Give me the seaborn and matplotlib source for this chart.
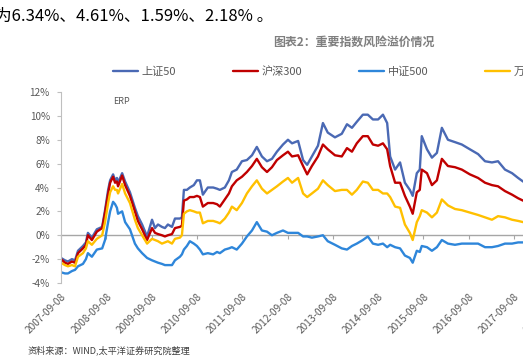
import matplotlib
matplotlib.use('Agg')
import matplotlib.pyplot as plt
import seaborn as sns
import pandas as pd
import numpy as np

dates = ['2007-09-08','2007-10-10','2007-11-03','2007-12-05','2007-12-30',
         '2008-01-23','2008-03-03','2008-03-27','2008-04-12','2008-05-14','2008-06-23','2008-08-05','2008-08-28','2008-09-22','2008-10-08','2008-11-01','2008-11-17','2008-12-02','2008-12-11',
         '2009-01-13','2009-02-06','2009-03-17','2009-04-26','2009-05-20','2009-06-23','2009-08-02','2009-09-11','2009-10-05','2009-10-29','2009-11-30','2009-12-24',
         '2010-01-17','2010-02-19','2010-03-15','2010-04-24','2010-05-10','2010-05-26','2010-06-19','2010-07-13','2010-08-14','2010-09-08','2010-10-02','2010-10-26','2010-12-05',
         '2011-01-17','2011-02-17','2011-03-12','2011-04-21','2011-05-24','2011-06-17','2011-07-26','2011-09-06','2011-10-16','2011-11-26',
         '2012-01-04','2012-02-14','2012-03-26','2012-05-05','2012-06-14','2012-08-02','2012-09-11','2012-10-14','2012-12-02',
         '2013-01-11','2013-02-13','2013-03-23','2013-05-11','2013-06-20','2013-07-29','2013-09-25','2013-11-19','2013-12-31',
         '2014-02-09','2014-03-20','2014-05-08','2014-06-17','2014-07-28','2014-09-08','2014-10-17','2014-11-20','2014-12-14',
         '2015-01-23','2015-03-04','2015-04-12','2015-05-22','2015-06-14','2015-07-17','2015-08-10','2015-08-26','2015-10-07','2015-11-16','2015-12-26',
         '2016-02-04','2016-03-24','2016-05-20','2016-07-14','2016-09-17','2016-11-22',
         '2017-01-17','2017-03-14','2017-05-02','2017-06-27','2017-08-23','2017-10-11','2017-11-20','2017-12-20']

sz50 = [-1.9,-2.1,-2.2,-2.0,-2.1,
        -1.3,-0.9,-0.6,0.2,-0.2,0.5,0.7,2.1,3.8,4.6,5.1,4.6,4.8,4.4,
        5.2,4.5,3.6,2.3,1.6,0.9,-0.1,1.3,0.6,0.9,0.7,0.6,
        0.9,0.7,1.4,1.4,1.5,3.8,3.8,4.0,4.2,4.6,4.6,3.4,4.0,
        4.0,3.9,3.8,4.0,4.6,5.3,5.5,6.2,6.3,6.7,
        7.4,6.6,6.2,6.4,7.0,7.6,8.0,7.7,7.9,
        6.3,5.9,6.6,7.5,9.4,8.6,8.2,8.5,9.3,
        9.0,9.5,10.1,10.1,9.7,9.7,10.1,9.4,6.6,
        5.5,6.1,4.4,3.8,3.3,5.2,5.5,8.3,7.2,6.5,6.9,
        9.0,8.0,7.8,7.6,7.2,6.8,
        6.2,6.1,6.2,5.5,5.2,4.8,4.5,4.4]

hs300 = [-2.0,-2.3,-2.4,-2.2,-2.3,
         -1.5,-1.1,-0.8,0.0,-0.4,0.3,0.6,1.9,3.5,4.4,4.9,4.4,4.5,4.1,
         5.0,4.2,3.3,2.0,1.2,0.5,-0.4,0.6,0.2,0.1,0.0,-0.1,
         0.0,0.1,0.6,0.7,0.8,2.9,3.0,3.2,3.2,3.3,3.2,2.4,2.7,
         2.7,2.6,2.4,3.0,3.5,4.1,4.6,4.9,5.3,5.8,
         6.4,5.7,5.3,5.7,6.3,6.7,7.0,6.6,6.7,
         5.8,5.1,5.8,6.6,7.6,7.2,6.7,6.6,7.3,
         7.0,7.7,8.3,8.3,7.6,7.5,7.7,7.2,5.8,
         4.4,4.4,3.3,2.4,1.8,3.6,3.8,5.5,5.2,4.2,4.6,
         6.4,5.8,5.7,5.5,5.1,4.8,
         4.4,4.2,4.1,3.7,3.4,3.1,2.9,2.8]

zz500 = [-3.1,-3.2,-3.2,-3.0,-2.9,
         -2.6,-2.4,-2.0,-1.5,-1.8,-1.2,-1.1,-0.4,1.1,2.0,2.8,2.6,2.3,1.8,
         2.0,1.1,0.5,-0.7,-1.1,-1.5,-1.9,-2.1,-2.2,-2.3,-2.4,-2.5,
         -2.5,-2.5,-2.1,-1.8,-1.6,-1.2,-0.9,-0.5,-0.7,-0.9,-1.2,-1.6,-1.5,
         -1.6,-1.4,-1.5,-1.2,-1.1,-1.0,-1.2,-0.7,-0.1,0.4,
         1.1,0.4,0.3,0.0,0.2,0.4,0.2,0.2,0.2,
         -0.1,-0.1,-0.2,-0.1,0.0,-0.5,-0.8,-1.1,-1.2,
         -0.9,-0.7,-0.4,-0.1,-0.7,-0.8,-0.7,-1.0,-0.8,
         -1.0,-1.1,-1.7,-1.9,-2.3,-1.3,-1.4,-0.9,-1.0,-1.3,-1.0,
         -0.4,-0.7,-0.8,-0.7,-0.7,-0.7,
         -1.0,-1.0,-0.9,-0.7,-0.7,-0.6,-0.6,-0.6]

wdqa = [-2.3,-2.5,-2.6,-2.5,-2.6,
        -1.8,-1.5,-1.1,-0.5,-0.8,-0.3,0.0,1.1,2.7,3.6,4.1,3.8,3.8,3.5,
        4.3,3.5,2.7,1.3,0.6,0.0,-0.7,-0.3,-0.4,-0.5,-0.7,-0.6,
        -0.5,-0.7,-0.3,-0.2,0.0,1.8,2.0,2.1,2.0,1.9,1.9,1.0,1.2,
        1.2,1.1,1.0,1.4,1.9,2.4,2.1,2.7,3.5,4.1,
        4.6,3.9,3.5,3.8,4.1,4.5,4.8,4.4,4.8,
        3.5,3.2,3.5,3.9,4.6,4.2,3.7,3.8,3.8,
        3.4,3.8,4.5,4.4,3.8,3.8,3.5,3.5,3.2,
        2.4,2.3,0.9,0.2,-0.4,1.1,1.6,2.1,1.9,1.5,1.9,
        3.0,2.5,2.2,2.1,1.9,1.7,
        1.5,1.3,1.6,1.5,1.3,1.2,1.1,1.0]

series_names = ['上证50', '沪深300', '中证500', '万得全A']
series_colors = ['#4A69B4', '#C00000', '#2E86DA', '#FFC000']
tick_dates = ['2007-09-08','2008-09-08','2009-09-08','2010-09-08','2011-09-08',
              '2012-09-08','2013-09-08','2014-09-08','2015-09-08','2016-09-08',
              '2017-09-08','2018-09-08']
yticks = [-4, -2, 0, 2, 4, 6, 8, 10, 12]

wide = pd.DataFrame({'date': pd.to_datetime(dates), '上证50': sz50, '沪深300': hs300,
                     '中证500': zz500, '万得全A': wdqa})
long = wide.melt(id_vars='date', var_name='series', value_name='value')

sns.set_theme(style='white')
plt.rcParams['font.family'] = ['Noto Sans CJK SC', 'DejaVu Sans']
plt.rcParams['axes.unicode_minus'] = False

W, H = 523, 357
fig = plt.figure(figsize=(W/100, H/100), dpi=100)
ax = fig.add_axes([61/W, 1-283/H, (559.3-61)/W, (283-92)/H])

sns.lineplot(data=long, x='date', y='value', hue='series', hue_order=series_names,
             palette=series_colors, estimator=None, linewidth=1.7, ax=ax)
handles, labels = ax.get_legend_handles_labels()
ax.get_legend().remove()

ax.set_xlim(pd.Timestamp(tick_dates[0]), pd.Timestamp(tick_dates[-1]))
ax.set_ylim(-4, 12)
ax.set_yticks(yticks)
ax.set_yticklabels([f'{v}%' for v in yticks])
ax.set_xticks(pd.to_datetime(tick_dates))
ax.set_xticklabels(tick_dates)
ax.set_xlabel('')
ax.set_ylabel('')

for s in ['top', 'right']:
    ax.spines[s].set_visible(False)
ax.spines['left'].set_color('#BFBFBF')
ax.spines['left'].set_linewidth(0.8)
ax.spines['bottom'].set_position(('data', 0))
ax.spines['bottom'].set_color('#A6A6A6')
ax.spines['bottom'].set_linewidth(1.0)
ax.spines['bottom'].set_zorder(0.5)
ax.tick_params(axis='y', direction='out', length=3, width=0.8, color='#BFBFBF',
               labelcolor='#595959', labelsize=7.2, pad=5, left=True)
ax.tick_params(axis='x', direction='out', length=3, width=0.8, color='#A6A6A6',
               labelcolor='#595959', labelsize=7.3, pad=37.5, bottom=True)
for lab in ax.get_xticklabels():
    lab.set_rotation(45)
    lab.set_horizontalalignment('right')
    lab.set_verticalalignment('top')
    lab.set_rotation_mode('anchor')
ax.grid(False)

fig.text(-4.7/W, 1-16/H, '为6.34%、4.61%、1.59%、2.18% 。', fontsize=12, color='#000000',
         ha='left', va='center')
fig.text(354/W, 1-42/H, '图表2：重要指数风险溢价情况', fontsize=8.6, fontweight='bold',
         color='#7F7F7F', ha='center', va='center')
fig.legend(handles, labels, loc='center left', bbox_to_anchor=(113/W, 1-72/H), ncol=4,
           frameon=False, fontsize=8, handlelength=2.25, handletextpad=0.3,
           columnspacing=5.15, borderpad=0, borderaxespad=0, labelcolor='#595959')
ax.text(113/W, 1-102/H, 'ERP', transform=fig.transFigure, fontsize=6.5, color='#595959',
        ha='left', va='center')
fig.text(28/W, 1-350/H, '资料来源：WIND,太平洋证券研究院整理', fontsize=6.6, color='#404040',
         ha='left', va='center')

fig.savefig('out.png', dpi=100)
